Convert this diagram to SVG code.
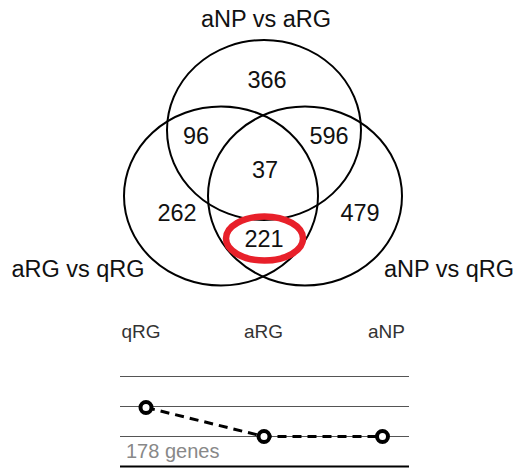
<svg xmlns="http://www.w3.org/2000/svg" width="517" height="474" viewBox="0 0 517 474">
  <style>
    .set { fill: none; stroke: #000; stroke-width: 2; }
    .num { font-family: "Liberation Sans", Arial, sans-serif; font-size: 23.5px; fill: #111; text-anchor: middle; }
    .lbl { font-family: "Liberation Sans", Arial, sans-serif; font-size: 23.5px; fill: #111; text-anchor: middle; }
    .cond { font-family: "Liberation Sans", Arial, sans-serif; font-size: 19px; fill: #333; text-anchor: middle; }
    .grid { stroke: #555; stroke-width: 1.2; }
    .pt { fill: #fff; stroke: #000; stroke-width: 4; }
  </style>
  <rect width="517" height="474" fill="#fff"/>

  <!-- Venn sets -->
  <g id="set-aNP-aRG">
    <ellipse class="set" cx="264" cy="130" rx="97" ry="90"/>
    <text class="lbl" x="266" y="26.5">aNP vs aRG</text>
  </g>
  <g id="set-aRG-qRG">
    <ellipse class="set" cx="221" cy="196" rx="97" ry="89.5"/>
    <text class="lbl" x="78" y="276.5">aRG vs qRG</text>
  </g>
  <g id="set-aNP-qRG">
    <ellipse class="set" cx="305" cy="196" rx="97" ry="89.5"/>
    <text class="lbl" x="449" y="276.5">aNP vs qRG</text>
  </g>

  <!-- region counts -->
  <g id="counts">
    <text class="num" x="267" y="87.5">366</text>
    <text class="num" x="196" y="143.5">96</text>
    <text class="num" x="329" y="143.5">596</text>
    <text class="num" x="265" y="177.5">37</text>
    <text class="num" x="177" y="220.5">262</text>
    <text class="num" x="360" y="220.5">479</text>
    <text class="num" x="264" y="247">221</text>
  </g>

  <!-- highlight of the shared aRG/aNP vs qRG region -->
  <g id="highlight">
    <ellipse cx="264.5" cy="238.5" rx="38.5" ry="22" fill="none" stroke="#e8202a" stroke-width="6.5"/>
  </g>

  <!-- expression profile -->
  <g id="profile">
    <text class="cond" x="141" y="338">qRG</text>
    <text class="cond" x="263.5" y="338">aRG</text>
    <text class="cond" x="386.5" y="338">aNP</text>
    <line class="grid" x1="120" y1="376.5" x2="409" y2="376.5"/>
    <line class="grid" x1="120" y1="406.5" x2="409" y2="406.5"/>
    <line class="grid" x1="120" y1="436.5" x2="409" y2="436.5"/>
    <line x1="120" y1="466.5" x2="409" y2="466.5" stroke="#000" stroke-width="2"/>
    <text x="126" y="458" font-family="Liberation Sans, Arial, sans-serif" font-size="20" fill="#888">178 genes</text>
  </g>
  <g id="connectors">
    <polyline points="146,407.5 264,436.5 382.5,436.5" fill="none" stroke="#000" stroke-width="3" stroke-dasharray="9,6"/>
  </g>
  <g id="points">
    <circle class="pt" cx="146" cy="407.5" r="5.5"/>
    <circle class="pt" cx="264" cy="436.5" r="5.5"/>
    <circle class="pt" cx="382.5" cy="436.5" r="5.5"/>
  </g>
</svg>
